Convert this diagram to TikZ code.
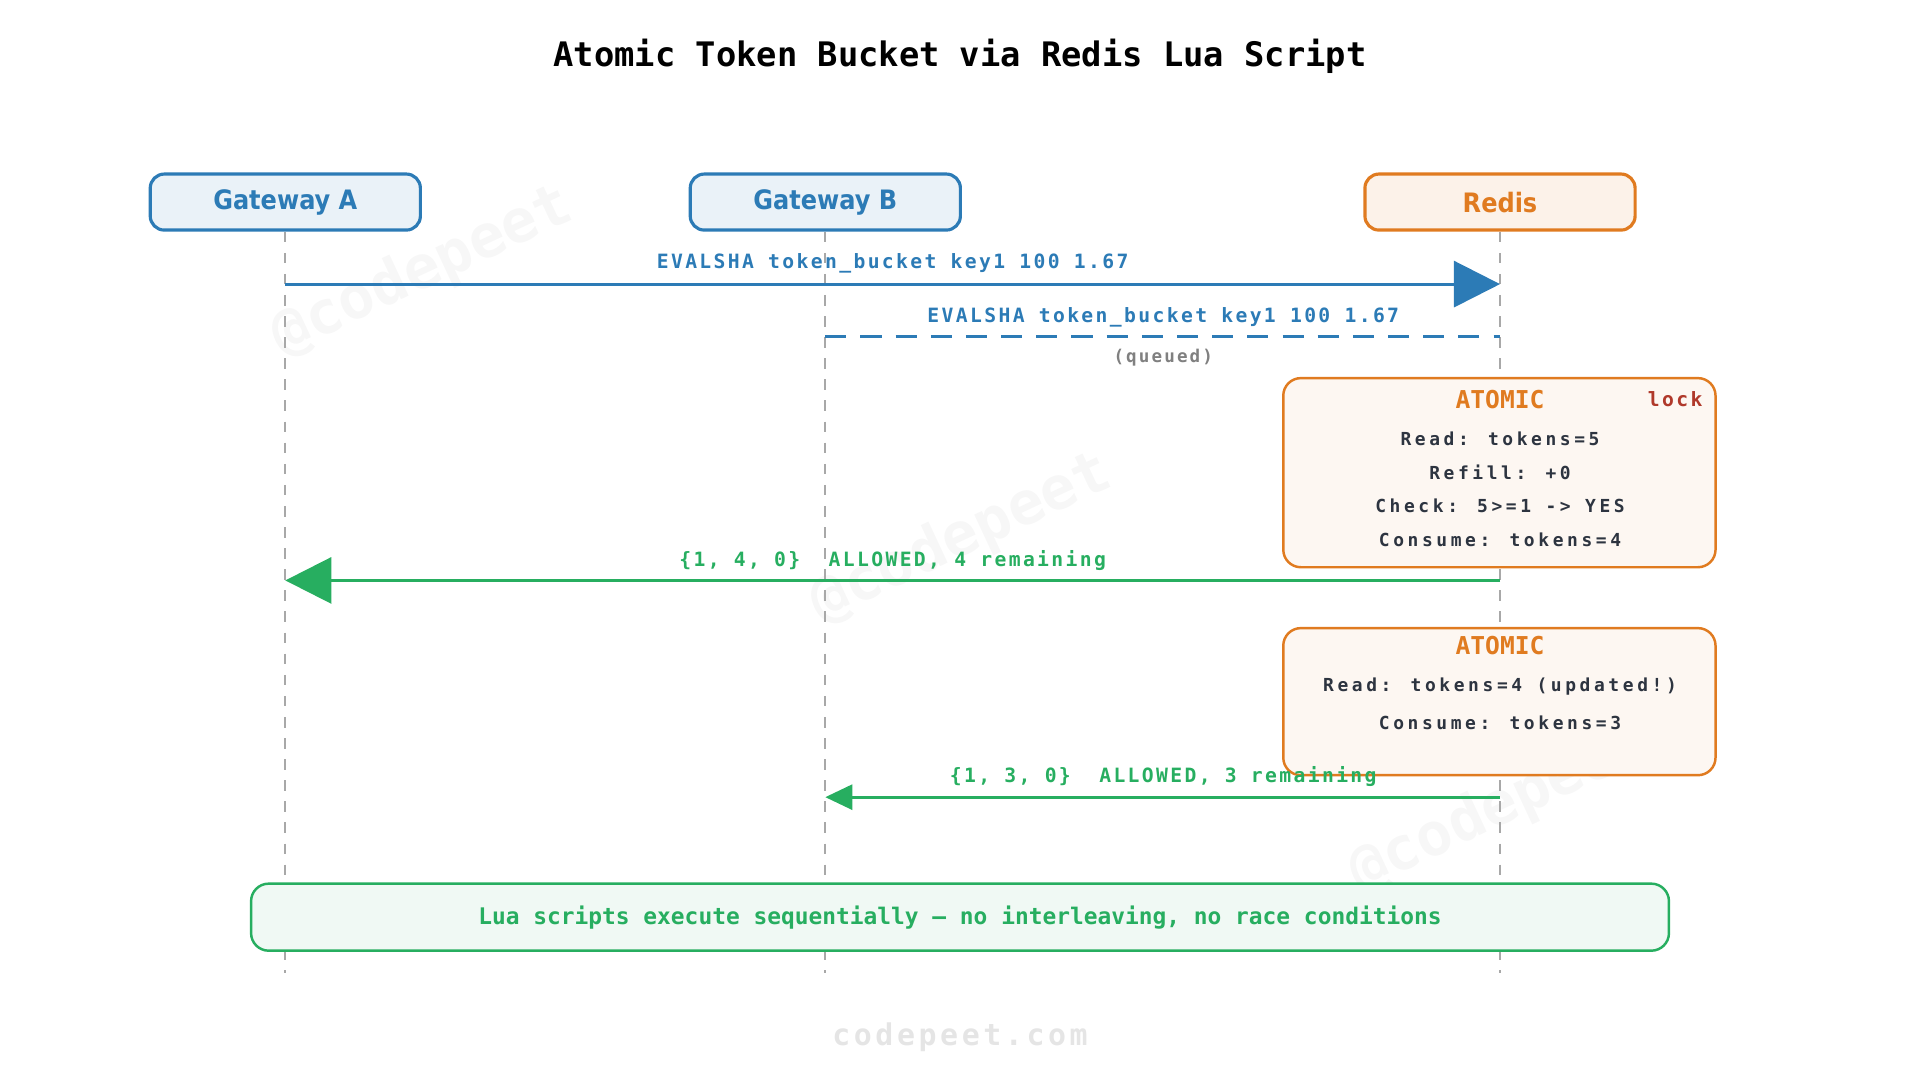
\documentclass[tikz,border=0pt]{standalone}
\usepackage{fontspec}
\setmonofont{DejaVu Sans Mono}
\newfontfamily\lblfont[LetterSpace=12]{DejaVu Sans Mono}
\newfontfamily\steplfont[LetterSpace=20]{DejaVu Sans Mono}
\newfontfamily\hdrfont{DejaVu Sans Condensed}
\usetikzlibrary{arrows.meta, positioning}

\definecolor{cblue}{HTML}{2C7BB6}
\definecolor{corange}{HTML}{E07B20}
\definecolor{cgreen}{HTML}{27AE60}
\definecolor{cred}{HTML}{B0392B}
\definecolor{ctext}{HTML}{2D3440}
\definecolor{cgray}{HTML}{A8A8A8}

\tikzset{
	actor/.style={draw=#1, line width=0.9pt, rounded corners=4pt, minimum width=2.7cm, minimum height=0.56cm, font=\hdrfont\bfseries\fontsize{7.6}{9}\selectfont, text=#1},
	lifeline/.style={cgray, dashed, line width=0.5pt},
	msglbl/.style={font=\lblfont\bfseries\fontsize{5.6}{7}\selectfont},
	atomic/.style={draw=corange, fill=corange!6, line width=0.7pt, rounded corners=5pt},
	luastep/.style={font=\steplfont\bfseries\fontsize{5.1}{6}\selectfont, text=ctext},
	bigtip/.style={-{Triangle[length=0.46cm, width=0.46cm]}},
	watermark/.style={font=\ttfamily\bfseries\fontsize{17}{17}\selectfont, text=black!3, rotate=25},
}

\begin{document}
\begin{tikzpicture}[x=0.012245cm, y=-0.012245cm]
	\useasboundingbox (0,0) rectangle (1568,882);

	% watermarks
	\node[watermark] at (345,222) {@codepeet};
	\node[watermark] at (785,440) {@codepeet};
	\node[watermark] at (1225,660) {@codepeet};

	\node[font=\ttfamily\bfseries\fontsize{9.6}{12}\selectfont] (title) at (784,46) {Atomic Token Bucket via Redis Lua Script};

	% actors
	\node[actor=cblue, fill=cblue!10] (gwa) at (233,165) {Gateway A};
	\node[actor=cblue, fill=cblue!10] (gwb) at (674,165) {Gateway B};
	\node[actor=corange, fill=corange!10] (redis) at (1225,165) {Redis};

	\foreach \a in {gwa, gwb, redis} {
		\coordinate (\a-end) at (\a.center |- 0,795);
		\draw[lifeline] (\a.south) -- (\a-end);
	}

	% footer note
	\node[draw=cgreen, fill=cgreen!7, line width=0.7pt, rounded corners=5pt, minimum width=14.17cm, minimum height=0.67cm, font=\ttfamily\bfseries\fontsize{6.5}{8}\selectfont, text=cgreen] (note) at (784,749) {Lua scripts execute sequentially — no interleaving, no race conditions};

	% request A
	\coordinate (a1) at (gwa.center |- 0,232);
	\coordinate (r1) at (redis.center |- 0,232);
	\draw[cblue, line width=0.8pt, bigtip] (a1) -- (r1);
	\node[msglbl, text=cblue] (m1) at (729,215) {EVALSHA token\_bucket key1 100 1.67};

	% request B (queued)
	\coordinate (b2) at (gwb.center |- 0,275);
	\coordinate (r2) at (redis.center |- 0,275);
	\draw[cblue, line width=0.8pt, dash pattern=on 6pt off 4pt] (b2) -- (r2);
	\node[msglbl, text=cblue] (m2) at (950,259) {EVALSHA token\_bucket key1 100 1.67};
	\node[msglbl, text=gray, font=\lblfont\bfseries\fontsize{5}{6}\selectfont] (queued) at (950,292) {(queued)};

	% first atomic block
	\node[atomic, minimum width=4.32cm, minimum height=1.89cm] (atom1) at (1224.5,386) {};
	\node[font=\ttfamily\bfseries\fontsize{7}{9}\selectfont, text=corange] (atom1-t) at (1225,326) {ATOMIC};
	\node[font=\lblfont\bfseries\fontsize{5.6}{7}\selectfont, text=cred] (lock) at (1368,326) {lock};
	\node[luastep] (s1) at (1225,358) {Read: tokens=5};
	\node[luastep] (s2) at (1225,386) {Refill: +0};
	\node[luastep] (s3) at (1225,413) {Check: 5>=1 -> YES};
	\node[luastep] (s4) at (1225,441) {Consume: tokens=4};

	% reply A
	\coordinate (r3) at (redis.center |- 0,474);
	\coordinate (a3) at (gwa.center |- 0,474);
	\draw[cgreen, line width=0.8pt, bigtip] (r3) -- (a3);
	\node[msglbl, text=cgreen] (m3) at (729,458) {\{1, 4, 0\}\ \ ALLOWED, 4 remaining};

	% second atomic block
	\node[atomic, minimum width=4.32cm, minimum height=1.47cm] (atom2) at (1224.5,573) {};
	\node[font=\ttfamily\bfseries\fontsize{7}{9}\selectfont, text=corange] (atom2-t) at (1225,527) {ATOMIC};
	\node[luastep] (s5) at (1225,561) {Read: tokens=4 (updated!)};
	\node[luastep] (s6) at (1225,590) {Consume: tokens=3};

	% reply B
	\coordinate (r4) at (redis.center |- 0,651);
	\coordinate (b4) at (gwb.center |- 0,651);
	\draw[cgreen, line width=0.8pt, -{Triangle[length=0.27cm, width=0.25cm]}] (r4) -- (b4);
	\node[msglbl, text=cgreen] (m4) at (950,634) {\{1, 3, 0\}\ \ ALLOWED, 3 remaining};

	\node[font=\lblfont\bfseries\fontsize{8.5}{10}\selectfont, text=black!10] (site) at (784,847) {codepeet.com};
\end{tikzpicture}
\end{document}
